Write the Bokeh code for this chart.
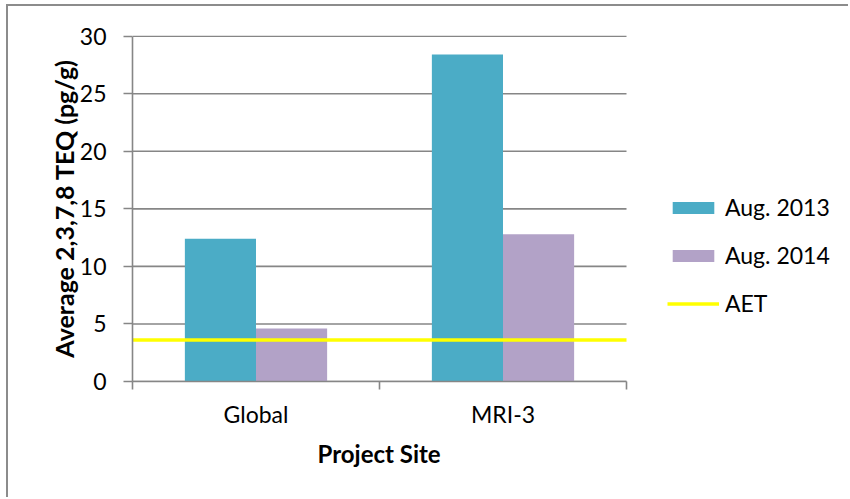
from bokeh.plotting import figure
from bokeh.models import (ColumnDataSource, Range1d, FixedTicker, Legend,
                          LegendItem, Title)
from bokeh.embed import file_html
from bokeh.resources import INLINE

# Average TEQ per project site, by sampling campaign
sites = ["Global", "MRI-3"]
aug_2013 = [12.4, 28.4]
aug_2014 = [4.6, 12.8]
aet_level = 3.6
y_ticks = [0, 5, 10, 15, 20, 25, 30]

GRID = "#868686"
TEAL = "#4BACC6"
LILAC = "#B2A2C7"
YELLOW = "#FFFF00"
FONT = "Lato"
FSIZE = "23px"
TSIZE = "24px"

n = len(sites)
centers = [i + 0.5 for i in range(n)]
bar_w = 0.288

# the frame also holds the legend on its right; the category part of the
# x range runs 0..n and every category is 247 px wide
FRAME_LEFT = 124
CANVAS_W, CANVAS_H = 842, 493
CAT_PX = 247
x_end = (CANVAS_W - FRAME_LEFT) / CAT_PX

p = figure(width=CANVAS_W, height=CANVAS_H,
           x_range=Range1d(0, x_end), y_range=Range1d(0, 30.06),
           output_backend="svg", toolbar_location=None,
           min_border_left=FRAME_LEFT, min_border_right=0,
           min_border_top=29, min_border_bottom=118)
p.outline_line_color = None
p.background_fill_color = "white"
p.border_fill_color = "white"
p.styles = {"margin-left": "6px", "margin-top": "4px",
            "border-left": "2px solid #8C8C8C",
            "border-top": "2px solid #8C8C8C"}

# horizontal gridlines, limited to the category area
p.xgrid.visible = False
p.ygrid.visible = False
p.segment(x0=[0] * len(y_ticks), x1=[n] * len(y_ticks), y0=y_ticks, y1=y_ticks,
          line_color=GRID, line_width=1.6)

src13 = ColumnDataSource(dict(x=[c - bar_w / 2 for c in centers], top=aug_2013))
src14 = ColumnDataSource(dict(x=[c + bar_w / 2 for c in centers], top=aug_2014))
r13 = p.vbar(x="x", top="top", bottom=0, width=bar_w, source=src13,
             fill_color=TEAL, line_color=None)
r14 = p.vbar(x="x", top="top", bottom=0, width=bar_w, source=src14,
             fill_color=LILAC, line_color=None)
r_aet = p.line(x=[0, n], y=[aet_level, aet_level],
               line_color=YELLOW, line_width=3.5)

# value axis
p.yaxis.ticker = FixedTicker(ticks=y_ticks)
p.yaxis.bounds = (0, 30)
p.yaxis.axis_line_color = GRID
p.yaxis.axis_line_width = 1.6
p.yaxis.major_tick_line_color = GRID
p.yaxis.major_tick_line_width = 1.6
p.yaxis.major_tick_out = 9
p.yaxis.major_tick_in = 0
p.yaxis.minor_tick_line_color = None
p.yaxis.major_label_text_font = FONT
p.yaxis.major_label_text_font_size = FSIZE
p.yaxis.major_label_text_color = "black"
p.yaxis.major_label_standoff = 17
p.yaxis.axis_label = "Average 2,3,7,8 TEQ (pg/g)"
p.yaxis.axis_label_text_font = FONT
p.yaxis.axis_label_text_font_size = "25px"
p.yaxis.axis_label_text_font_style = "bold"
p.yaxis.axis_label_text_color = "black"
p.yaxis.axis_label_standoff = -2

# category axis: tick marks on category boundaries, labels at centres
p.xaxis.ticker = FixedTicker(ticks=centers, minor_ticks=list(range(n + 1)))
p.xaxis.bounds = (0, n)
p.xaxis.major_label_overrides = {c: s for c, s in zip(centers, sites)}
p.xaxis.axis_line_color = GRID
p.xaxis.axis_line_width = 1.6
p.xaxis.major_tick_out = 0
p.xaxis.major_tick_in = 0
p.xaxis.minor_tick_out = 8
p.xaxis.minor_tick_in = 0
p.xaxis.minor_tick_line_color = GRID
p.xaxis.minor_tick_line_width = 1.6
p.xaxis.major_label_text_font = FONT
p.xaxis.major_label_text_font_size = FSIZE
p.xaxis.major_label_text_color = "black"
p.xaxis.major_label_standoff = 10

# axis title for the categories, centred under the category area
p.add_layout(Title(text="Project Site", align="left", offset=185,
                   text_font=FONT, text_font_size=TSIZE,
                   text_font_style="bold", text_color="black",
                   standoff=12), "below")

legend = Legend(
    items=[LegendItem(label="Aug. 2013", renderers=[r13]),
           LegendItem(label="Aug. 2014", renderers=[r14]),
           LegendItem(label="AET", renderers=[r_aet])],
    location=(535, 63),
    label_text_font=FONT, label_text_font_size=FSIZE, label_text_color="black",
    glyph_width=52, glyph_height=15, label_standoff=6,
    label_height=30, spacing=18, padding=0, margin=0,
    border_line_color=None, background_fill_alpha=0,
)
p.add_layout(legend)

open("out.html", "w").write(file_html(p, INLINE))
